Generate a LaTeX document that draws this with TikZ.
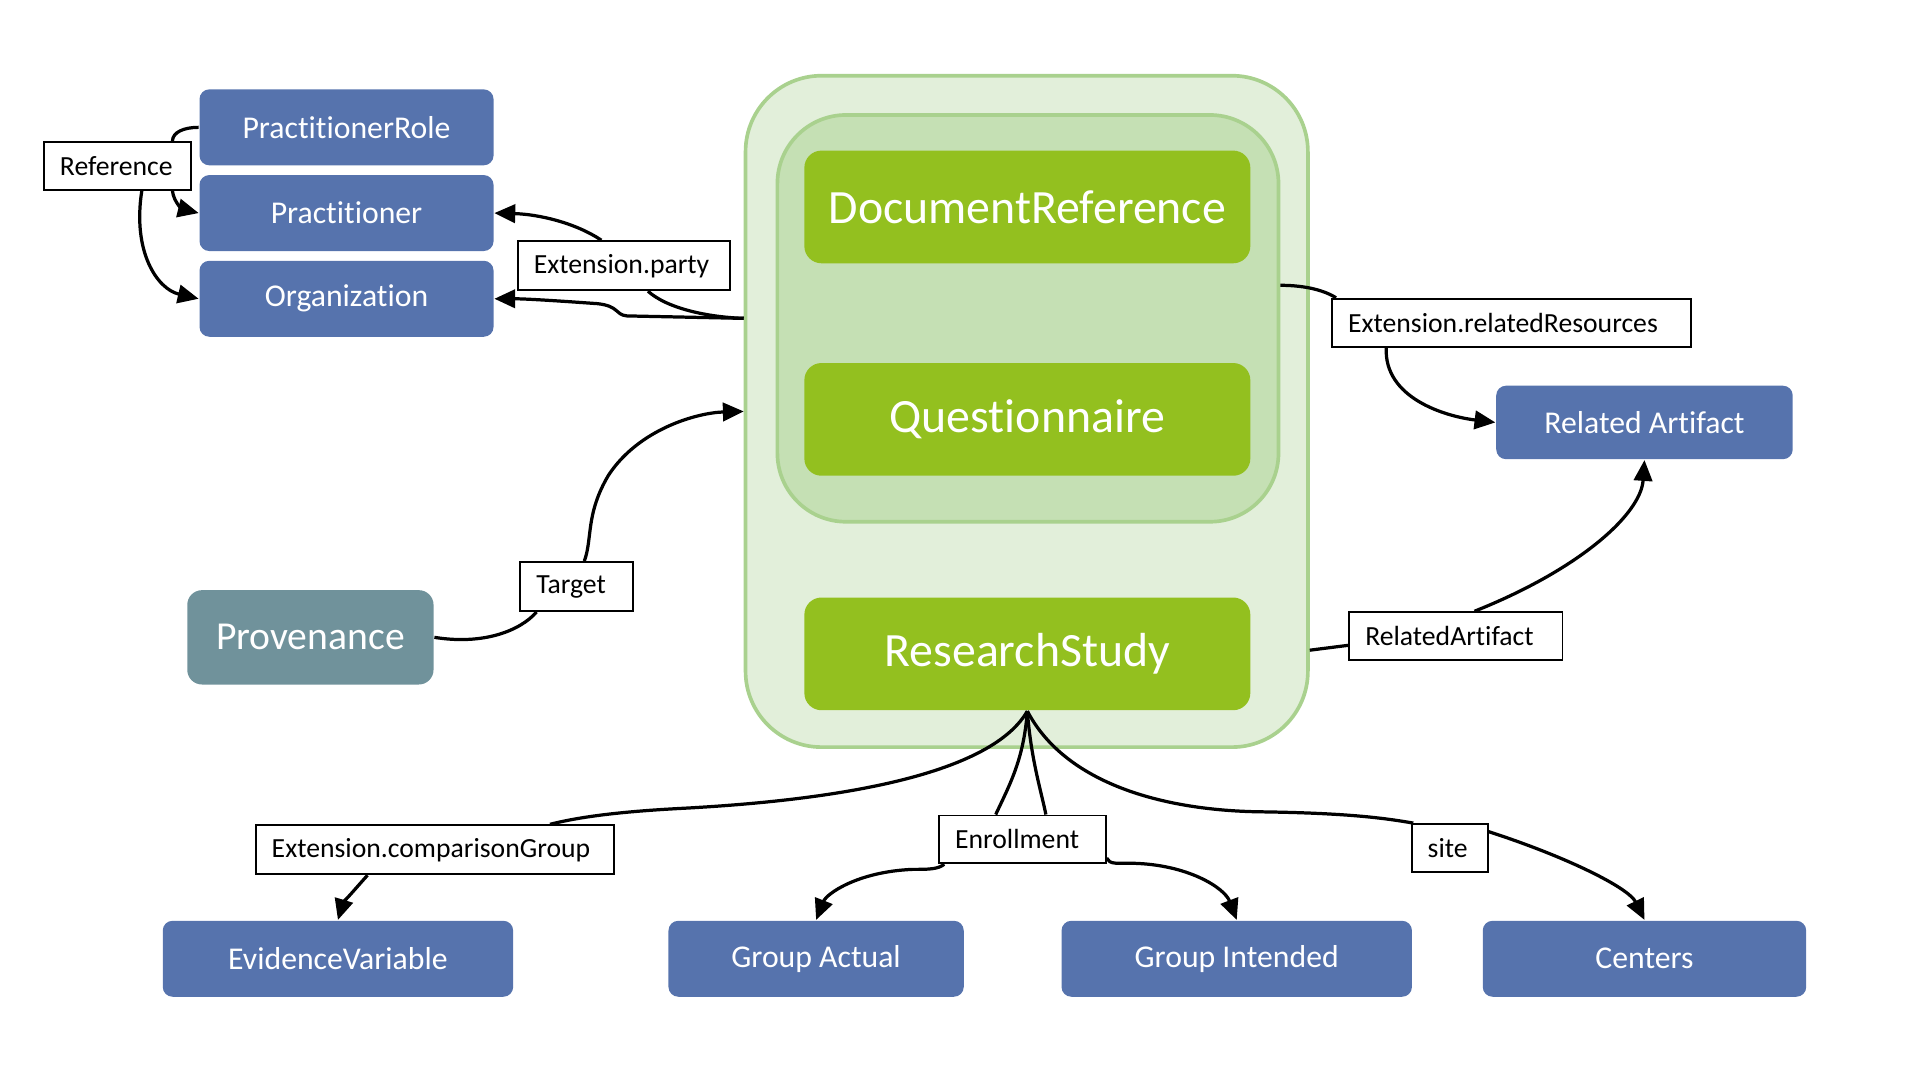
\documentclass[tikz,border=0pt]{standalone}
\usepackage{fontspec}
\setmainfont{Carlito}[Ligatures=NoCommon]
\usetikzlibrary{arrows.meta,calc}
\definecolor{boxblue}{RGB}{86,115,173}
\definecolor{provgrey}{RGB}{112,146,155}
\definecolor{leafgreen}{RGB}{147,192,31}
\definecolor{outerfill}{RGB}{226,239,218}
\definecolor{innerfill}{RGB}{197,224,180}
\definecolor{frameline}{RGB}{169,209,142}
\tikzset{
  bluebox/.style={fill=boxblue, rounded corners=0.08cm, text=white, minimum height=0.62cm,
    font=\fontsize{7.37pt}{8.8pt}\selectfont, inner sep=0},
  provbox/.style={fill=provgrey, rounded corners=0.12cm, text=white, minimum width=2.01cm, minimum height=0.77cm,
    font=\fontsize{9.2pt}{11pt}\selectfont, inner sep=0},
  greenbox/.style={fill=leafgreen, rounded corners=0.14cm, text=white, minimum width=3.64cm, minimum height=0.92cm,
    font=\fontsize{11.1pt}{13pt}\selectfont, inner sep=0},
  lab/.style={draw=black, line width=0.45pt, fill=white, inner xsep=0.13cm, inner ysep=0, minimum height=0.39cm,
    font=\fontsize{6.43pt}{7.7pt}\selectfont, align=left},
  conn/.style={line width=0.75pt, draw=black},
  arr/.style={conn, -{Triangle[length=0.17cm, width=0.15cm]}}
}
\begin{document}
\begin{tikzpicture}[x=0.01cm, y=-0.01cm]
\useasboundingbox (0,0) rectangle (1568,882);
% containers
\node[draw=frameline, line width=0.85pt, fill=outerfill, rounded corners=0.62cm,
      minimum width=4.59cm, minimum height=5.48cm, inner sep=0] (outer) at (838.5,336) {};
\node[draw=frameline, line width=0.85pt, fill=innerfill, rounded corners=0.56cm,
      minimum width=4.09cm, minimum height=3.32cm, inner sep=0] (inner) at (839.5,260) {};
% green resources
\node[greenbox] (dr) at (839,169) {DocumentReference};
\node[greenbox] (qn) at (839,342.5) {Questionnaire};
\node[greenbox] (rs) at (839,534) {ResearchStudy};
% blue resources
\node[bluebox, minimum width=2.40cm] (pr)  at (283,104) {PractitionerRole};
\node[bluebox, minimum width=2.40cm] (pra) at (283,174) {Practitioner};
\node[bluebox, minimum width=2.40cm] (org) at (283,244) {Organization};
\node[bluebox, minimum width=2.42cm, minimum height=0.60cm] (ra) at (1343,345) {Related Artifact};
\node[bluebox, minimum width=2.86cm] (ev) at (276,783) {EvidenceVariable};
\node[bluebox, minimum width=2.41cm] (ga) at (666.5,783) {Group Actual};
\node[bluebox, minimum width=2.86cm] (gi) at (1010,783) {Group Intended};
\node[bluebox, minimum width=2.64cm] (ce) at (1343,783) {Centers};
\node[provbox] (prov) at (253.5,520.5) {Provenance};
% labels
\node[lab, text width=0.94cm] (ref) at (96,135.5) {Reference};
\node[lab, text width=1.47cm, minimum height=0.40cm] (party) at (509.5,217) {Extension.party};
\node[lab, text width=2.67cm] (relres) at (1234.5,263.5) {Extension.relatedResources};
\node[lab, text width=0.66cm, minimum height=0.40cm] (target) at (471,479) {Target};
\node[lab, text width=1.48cm] (relart) at (1189,519.5) {RelatedArtifact};
\node[lab, text width=2.66cm, minimum height=0.40cm] (cmp) at (355,694) {Extension.comparisonGroup};
\node[lab, text width=1.10cm] (enr) at (835,685.5) {Enrollment};
\node[lab, text width=0.36cm] (site) at (1184,692.5) {site};
% Reference connectors
\draw[conn] (pr.west) .. controls (150,104) and (141,108) .. ($(ref.north east)+(-16,0)$);
\draw[arr] ($(ref.south east)+(-16,0)$) .. controls (142,166) and (150,171) .. (pra.west);
\draw[arr] ($(ref.south east)+(-41,0)$) .. controls (108,205) and (128,236) .. (org.west);
% Extension.party
\draw[conn] (outer.west |- 0,260) .. controls (578,259) and (545,252) .. ($(party.south west)+(107,0)$);
\draw[arr] ($(party.north west)+(69,0)$) .. controls (470,182) and (440,175) .. (pra.east);
\draw[arr] (outer.west |- 0,260) -- (512,258) .. controls (502,257) and (506,250) .. (488,248)
  .. controls (460,246) and (430,244) .. (org.east);
% Target
\draw[conn] (prov.east) .. controls (395,527) and (425,515) .. ($(target.south west)+(14,0)$);
\draw[arr] ($(target.north west)+(53,0)$) .. controls (484,440) and (478,420) .. (497,388)
  .. controls (522,350) and (570,337) .. (outer.west);
% Extension.relatedResources
\draw[conn] (inner.east |- 0,233) .. controls (1068,233) and (1083,238) .. ($(relres.north west)+(4,0)$);
\draw[arr] ($(relres.south west)+(45,0)$) .. controls (1130,325) and (1180,340) .. (ra.west);
% RelatedArtifact
\draw[conn] (outer.east |- 0,531) -- (relart.west |- 0,527);
\draw[arr] ($(relart.north west)+(103,0)$) .. controls (1290,465) and (1340,420) .. (ra.south);
% ResearchStudy children
\draw[conn] (rs.south) .. controls (805,640) and (650,655) .. (560,660)
  .. controls (500,663) and (470,668) .. ($(cmp.north west)+(241,0)$);
\draw[arr] ($(cmp.south west)+(92,0)$) .. controls (290,726) and (280,738) .. (ev.north);
\draw[conn] (rs.south) .. controls (836,620) and (825,640) .. ($(enr.north west)+(47,0)$);
\draw[conn] (rs.south) .. controls (842,620) and (850,645) .. ($(enr.north west)+(88,0)$);
\draw[arr] ($(enr.south west)+(5,0)$) .. controls (766,710) and (758,710) .. (745,710)
  .. controls (700,712) and (675,730) .. (ga.north);
\draw[arr] ($(enr.south east)+(0,-5)$) .. controls (906,706) and (912,705) .. (925,705)
  .. controls (970,706) and (1000,725) .. (gi.north);
\draw[conn] (rs.south) .. controls (870,640) and (950,662) .. (1030,663)
  .. controls (1100,664) and (1130,668) .. ($(site.north west)+(2,0)$);
\draw[arr] ($(site.north east)+(0,7)$) .. controls (1280,700) and (1330,725) .. (ce.north);
\end{tikzpicture}
\end{document}
